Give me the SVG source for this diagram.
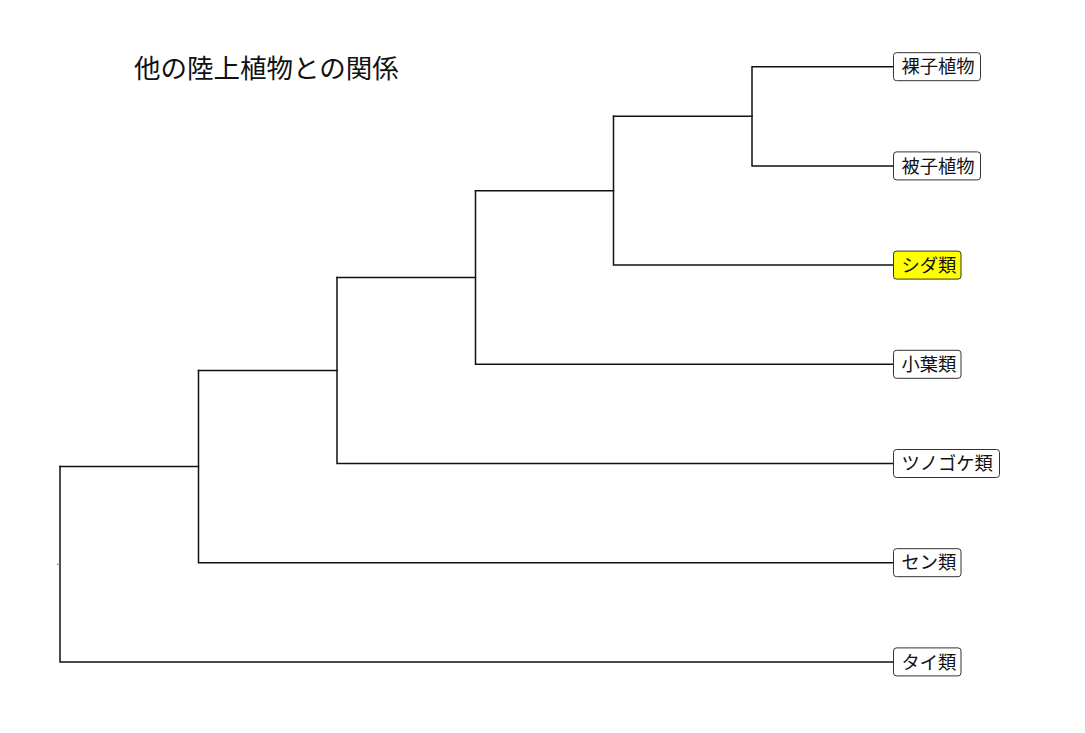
<svg xmlns="http://www.w3.org/2000/svg" width="1085" height="733" viewBox="0 0 1085 733">
<style>
.e{fill:none;stroke:#111;stroke-width:1.5;stroke-linecap:square}
.k{fill:none;stroke:#777;stroke-width:1}
.b{fill:#fff;stroke:#333;stroke-width:1}
.h{fill:#ffff00}
.t{font-family:"Noto Sans CJK JP","Noto Sans",sans-serif;font-size:18.3px;fill:#111}
.ti{font-family:"Noto Sans CJK JP","Noto Sans",sans-serif;font-size:26.5px;fill:#111}
</style>
<rect width="1085" height="733" fill="#fff"/>
<text class="ti" x="134" y="78">他の陸上植物との関係</text>
<g id="connectors">
<path class="e" d="M60,466.6V661.9H893"/>
<path class="k" d="M57,564.3H60"/>
<path class="e" d="M60,466.6H198.5"/>
<path class="e" d="M198.5,370.5V562.7H893"/>
<path class="e" d="M198.5,370.5H337"/>
<path class="e" d="M337,277.5V463.5H893"/>
<path class="e" d="M337,277.5H475.5"/>
<path class="e" d="M475.5,190.7V364.3H893"/>
<path class="e" d="M475.5,190.7H613.5"/>
<path class="e" d="M613.5,116.3V265.1H893"/>
<path class="e" d="M613.5,116.3H752"/>
<path class="e" d="M893,66.7H752V165.9H893"/>
</g>
<g id="n_ragusi"><rect class="b" x="893.5" y="52.7" width="87" height="28" rx="3"/><text class="t" x="901.5" y="73.4">裸子植物</text></g>
<g id="n_hisi"><rect class="b" x="893.5" y="151.9" width="87" height="28" rx="3"/><text class="t" x="901.5" y="172.6">被子植物</text></g>
<g id="n_sida"><rect class="b h" x="893.5" y="251.1" width="67.5" height="28" rx="3"/><text class="t" x="901.5" y="271.8">シダ類</text></g>
<g id="n_shouyou"><rect class="b" x="893.5" y="350.3" width="67.5" height="28" rx="3"/><text class="t" x="901.5" y="371">小葉類</text></g>
<g id="n_tsunogoke"><rect class="b" x="893.5" y="449.5" width="106" height="28" rx="3"/><text class="t" x="901.5" y="470.2">ツノゴケ類</text></g>
<g id="n_sen"><rect class="b" x="893.5" y="548.7" width="67.5" height="28" rx="3"/><text class="t" x="901.5" y="569.4">セン類</text></g>
<g id="n_tai"><rect class="b" x="893.5" y="647.9" width="67.5" height="28" rx="3"/><text class="t" x="901.5" y="668.6">タイ類</text></g>
</svg>
